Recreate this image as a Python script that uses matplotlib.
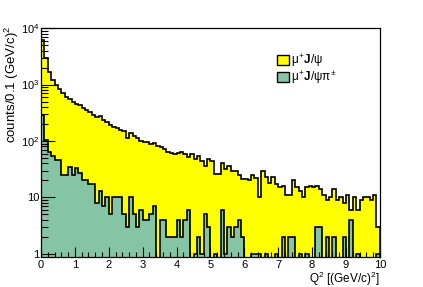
import matplotlib
matplotlib.use("Agg")
import matplotlib.pyplot as plt
import numpy as np
from matplotlib.ticker import FixedLocator, FuncFormatter, MultipleLocator

plt.rcParams['font.family'] = ['Liberation Sans', 'DejaVu Sans']
plt.rcParams['mathtext.fontset'] = 'custom'
plt.rcParams['mathtext.rm'] = 'Liberation Sans'
plt.rcParams['mathtext.it'] = 'Liberation Sans'
plt.rcParams['mathtext.bf'] = 'Liberation Sans:bold'

# Q^2 bins, 0.1 (GeV/c)^2 wide
q2_edges = np.linspace(0, 10, 101)

# mu+ J/psi counts per bin
counts_jpsi = [
    6200, 2900, 1700, 1200, 980, 830, 700, 600, 550, 490,
    450, 440, 390, 360, 320, 290, 270, 280, 240, 220,
    190, 180, 170, 155, 150, 115, 140, 125, 115, 100,
    95, 95, 90, 92, 82, 78, 72, 65, 62, 60,
    62, 63, 60, 52, 58, 48, 55, 44, 36, 48,
    45, 26, 26, 40, 32, 36, 30, 29, 25, 21,
    21, 20, 25, 22, 10, 29, 23, 18, 23, 17,
    15, 16, 11, 11, 20, 15, 13, 10, 15, 16,
    15, 16, 14, 11, 9, 10, 14, 9, 10, 8,
    11, 6, 10, 6, 9, 10, 10, 9, 11, 3,
]

# mu+ J/psi pi+- counts per bin
counts_jpsipi = [
    290, 104, 65, 55, 46, 46, 25, 25, 35, 25,
    33, 27, 20, 20, 17, 17, 8, 13, 7, 10,
    5, 10, 10, 10, 5, 3, 10, 5, 3, 6,
    4, 4, 5, 7, 0, 4, 4, 2, 2, 2,
    4, 2, 4, 6, 0, 1, 2, 1, 5, 3,
    0, 1, 0, 6, 1, 3, 2, 3, 4, 2,
    0, 0, 1, 1, 1, 0, 1, 0, 0, 1,
    0, 2, 0, 2, 2, 0, 1, 0, 1, 0,
    0, 3, 3, 0, 2, 0, 2, 0, 0, 2,
    0, 4, 0, 1, 0, 0, 0, 0, 0, 1,
]

legend_labels = [r'$\mu^{+}\mathbf{J}/\psi$', r'$\mu^{+}\mathbf{J}/\psi\pi^{\pm}$']
fill_colors = ['#ffff00', '#85c4a5']

ymin = 0.885
floor = 0.5

fig = plt.figure(figsize=(4.23, 2.87), dpi=100)
ax = fig.add_axes([0.097, 0.105, 0.801, 0.797])

for vals, col, lab in zip([counts_jpsi, counts_jpsipi], fill_colors, legend_labels):
    v = np.array(vals, dtype=float)
    v = np.where(v > 0, v, floor)
    ax.stairs(v, q2_edges, baseline=floor, fill=True, color=col, label=lab)
    ax.stairs(v, q2_edges, baseline=floor, fill=False, color='black', lw=1.2)

ax.set_yscale('log')
ax.set_xlim(0, 10)
ax.set_ylim(ymin, 1e4)

ax.xaxis.set_major_locator(MultipleLocator(1))
ax.xaxis.set_minor_locator(MultipleLocator(0.2))
ax.yaxis.set_major_locator(FixedLocator([1, 10, 100, 1000, 10000]))
minors = [m * 10 ** e for e in range(0, 4) for m in range(2, 10)]
ax.yaxis.set_minor_locator(FixedLocator(minors))


def ylab(v, pos):
    if v < 5:
        return '1'
    if v < 50:
        return '10'
    return r'$10^{%d}$' % round(np.log10(v))


ax.yaxis.set_major_formatter(FuncFormatter(ylab))
ax.tick_params(which='both', direction='in', top=False, right=False, labelsize=8)
ax.tick_params(axis='y', which='major', length=10, width=0.8, pad=1)
ax.tick_params(axis='y', which='minor', length=5, width=0.8)
ax.tick_params(axis='x', which='major', length=7, width=0.8, pad=2)
ax.tick_params(axis='x', which='minor', length=3.5, width=0.8)
for s in ax.spines.values():
    s.set_linewidth(0.9)

ax.set_xlabel(r'Q$^{2}$ [(GeV/c)$^{2}$]', fontsize=8.5, loc='right')
ax.xaxis.set_label_coords(1.0, -0.055)
ax.xaxis.label.set_va('top')
ax.set_ylabel(r'counts/0.1 (GeV/c)$^{2}$', fontsize=9.5, loc='top')
ax.yaxis.set_label_coords(-0.058, 1.01)

handles, labels = ax.get_legend_handles_labels()
leg = ax.legend(handles, labels, loc='upper left', bbox_to_anchor=(0.695, 0.895),
                frameon=False, fontsize=8.5, handlelength=1.05, handleheight=1.0,
                handletextpad=0.2, labelspacing=-0.05, borderaxespad=0,
                borderpad=0)
for h in leg.legend_handles:
    h.set_edgecolor('black')
    h.set_linewidth(1.0)

fig.savefig('out.png', dpi=100)
